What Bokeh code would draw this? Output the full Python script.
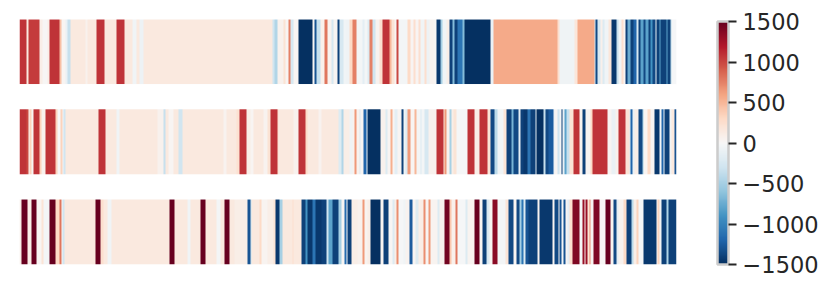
import numpy as np
from bokeh.plotting import figure
from bokeh.models import LinearColorMapper, ColorBar, FixedTicker, Range1d
from bokeh.embed import file_html
from bokeh.resources import INLINE

# (stop, value) stripes; stops count bins along the row, one part per third of the row
row1_part1 = [(48,1080),(53,150),(87,1050),(95,100),(110,20),(117,100),(147,1080),(153,450),(165,30),(172,-100),(180,-350),
 (225,150),(232,70),(258,150),(282,1080),(318,150),(342,1080),(365,150),(378,-50),(388,150),(398,-80),(720,150)]
row1_part2 = [(65,150),(73,-300),(81,-450),(100,60),(106,220),(113,30),(120,750),(130,-250),(144,30),(185,-1500),(193,30),(199,-1300),
 (209,-350),(222,80),(230,800),(242,50),(249,-250),(262,30),(268,-1400),(278,-250),(287,-50),(297,-60),(307,300),(317,750),(336,-30),
 (342,-150),(350,-30),(357,-200),(367,750),(376,-300),(388,50),(395,250),(416,1080),(424,500),(431,200),(439,30),(445,1000),(470,-30),
 (480,300),(488,30),(495,250),(504,30),(510,250),(522,-50),(528,250),(538,-80),(548,50),(558,30),(570,-1450),(575,-500),(588,-50),
 (597,100),(606,-1400),(612,-650),(621,-1400),(636,-1100),(642,-650),(720,-1500)]
row1_part3 = [(30,-1500),(38,-100),(232,570),(238,250),(282,-60),(290,180),(342,570),(345,-300),(352,-1350),(360,-250),(366,80),(372,-200),
 (385,-50),(393,180),(407,-1450),(415,-350),(422,-50),(428,250),(434,30),(442,-1400),(450,-750),(458,-1400),(468,-1200),(474,-250),
 (480,-1400),(488,-800),(495,-1350),(503,-800),(511,-1400),(517,-900),(524,-1350),(528,-100),(536,-1400),(540,-800),(558,-1400),
 (562,-800),(570,-1400),(574,-400),(588,-20)]

row2_part1 = [(48,1080),(53,1000),(57,30),(64,350),(68,30),(88,1080),(94,350),(106,60),(136,1080),(140,350),(150,-20),(156,350),(160,-50),
 (165,-300),(264,150),(285,1080),(318,150),(328,-50),(442,150),(460,60),(466,-350),(475,150),(488,30),(505,150),(516,-300),(638,150),
 (648,50),(678,150),(687,230),(708,1080),(720,100)]
row2_part2 = [(8,30),(38,150),(50,50),(60,220),(80,1080),(85,250),(130,150),(143,60),(166,1080),(170,300),(205,150),(213,50),(264,150),
 (272,-200),(278,-450),(296,100),(305,-60),(311,50),(318,650),(326,50),(331,-200),(340,30),(347,-1200),(351,-50),(391,-1500),(404,60),
 (411,-200),(420,30),(426,550),(433,30),(440,-150),(453,30),(459,-1400),(464,-50),(472,-200),(479,650),(492,30),(498,500),(510,-30),
 (514,-200),(522,-30),(533,-250),(557,70),(578,1080),(582,200),(588,650),(596,50),(603,-500),(608,100),(618,200),(651,-20),(672,1080),
 (686,100),(711,1080)]
row2_part3 = [(30,200),(42,-1350),(50,-400),(70,-50),(78,200),(92,-1400),(100,-700),(114,-1350),(120,-150),(128,-1400),
 (142,-1450),(150,-1100),(164,-1400),(168,-150),(190,-1500),(194,-350),(204,-1350),(218,-1250),(222,-100),(232,30),(238,-300),(242,-30),
 (247,-1400),(252,-100),(258,-800),(266,-350),(278,200),(298,1080),(306,40),(316,-1400),(330,30),(336,300),(380,1080),(392,30),(404,-100),
 (414,60),(436,1080),(446,200),(449,-200),(457,-1200),(463,-100),(473,100),(485,-1350),(490,-500),(502,30),(510,300),(522,30),(538,-1450),
 (543,-30),(548,-1200),(552,-100),(568,-1400),(574,-50),(582,150),(588,-1300)]

row3_part1 = [(33,100),(52,1500),(62,100),(77,1500),(92,30),(98,200),(116,-30),(136,1500),(146,300),(152,800),(155,30),(161,-300),(254,150),
 (269,1500),(279,250),(292,150),(304,-50),(476,150),(491,1500),(531,150),(540,-50),(569,150),(584,1500),(618,150),(630,-30),(643,150),
 (658,1500),(672,150),(711,100),(720,-1300)]
row3_part2 = [(4,-300),(27,150),(33,300),(50,40),(70,100),(75,200),(88,-1450),(95,-500),(125,150),(130,250),(153,150),(166,-1400),(170,-900),
 (186,-1450),(196,-1100),(212,-1450),(228,-1400),(234,-300),(246,-800),(264,-1400),(273,-500),(281,30),(288,-1150),(292,20),(302,-1400),
 (320,100),(335,60),(342,650),(352,40),(361,100),(391,-1500),(400,30),(415,-1400),(425,20),(431,-200),(438,100),(445,700),(460,-20),
 (466,-50),(478,50),(485,-1250),(495,30),(503,-200),(518,100),(525,700),(533,30),(540,650),(562,40),(568,-200),(582,60),(598,1450),
 (603,400),(616,80),(622,800),(645,-20),(651,-200),(671,40),(687,1500),(695,30),(708,-1400),(712,-300)]
row3_part3 = [(27,-200),(35,30),(50,1350),(75,-30),(84,200),(98,-1350),(108,30),(116,-1350),(122,-500),(130,-1100),
 (135,-200),(143,-1300),(170,-1400),(178,40),(217,-1450),(221,40),(233,-1350),(238,50),(244,-1300),(248,-30),(254,-1300),(262,30),
 (268,-150),(277,250),(296,1400),(305,-20),(312,1300),(316,40),(321,1300),(326,200),(331,700),(340,40),(357,1400),(374,20),(390,1500),
 (398,40),(407,-1350),(415,-150),(430,50),(438,300),(452,-1400),(460,-400),(467,100),(474,350),(488,-20),(528,-1450),(532,40),(538,350),
 (544,-30),(558,-1400),(564,-450),(588,-1400)]

cbar_ticks = [-1500, -1000, -500, 0, 500, 1000, 1500]
cmap_anchors = ["#053061","#2166ac","#4393c3","#92c5de","#d1e5f0","#f7f7f7","#fddbc7","#f4a582","#d6604d","#b2182b","#67001f"]

def row_array(parts):
    out = []
    for offset, stripes in zip((-27, 693, 1383), parts):
        for stop, val in stripes:
            s = offset + stop
            if s > len(out):
                out.extend([val] * (s - len(out)))
    return np.array(out, dtype=float)

rows = [row_array((row1_part1, row1_part2, row1_part3)),
        row_array((row2_part1, row2_part2, row2_part3)),
        row_array((row3_part1, row3_part2, row3_part3))]

def make_palette(anchors, n=256):
    rgb = np.array([[int(a[i:i+2], 16) for i in (1, 3, 5)] for a in anchors], float)
    xs = np.linspace(0, 1, len(anchors))
    t = np.linspace(0, 1, n)
    m = np.stack([np.interp(t, xs, rgb[:, k]) for k in range(3)], 1).round().astype(int)
    return ["#%02x%02x%02x" % tuple(c) for c in m]

mapper = LinearColorMapper(palette=make_palette(cmap_anchors), low=-1500, high=1500)
L = 1971

p = figure(frame_width=657, frame_height=245, x_range=Range1d(0, L), y_range=Range1d(0, 2.715),
           toolbar_location=None, output_backend="svg", min_border_left=19, min_border_top=19,
           min_border_bottom=14, min_border_right=0)
p.axis.visible = False
p.grid.visible = False
p.outline_line_color = None

for i, r in enumerate(rows):
    p.image(image=[r[:L].reshape(1, -1)], x=0, y=2 - i, dw=L, dh=0.72, color_mapper=mapper)

cb = ColorBar(color_mapper=mapper, ticker=FixedTicker(ticks=cbar_ticks),
              major_label_overrides={t: str(t).replace("-", "\u2212") for t in cbar_ticks},
              width=11, height=243, padding=0, location=(41, 0), margin=0,
              major_tick_in=0, major_tick_out=8, major_tick_line_color="#262626", major_tick_line_width=2,
              minor_tick_line_color=None, bar_line_color="#cccccc", bar_line_width=2.5,
              border_line_color=None, background_fill_color=None,
              major_label_text_font="DejaVu Sans", major_label_text_font_size="22.5px",
              major_label_text_color="#262626", label_standoff=6)
p.add_layout(cb, "right")

open("out.html", "w").write(file_html(p, INLINE))
